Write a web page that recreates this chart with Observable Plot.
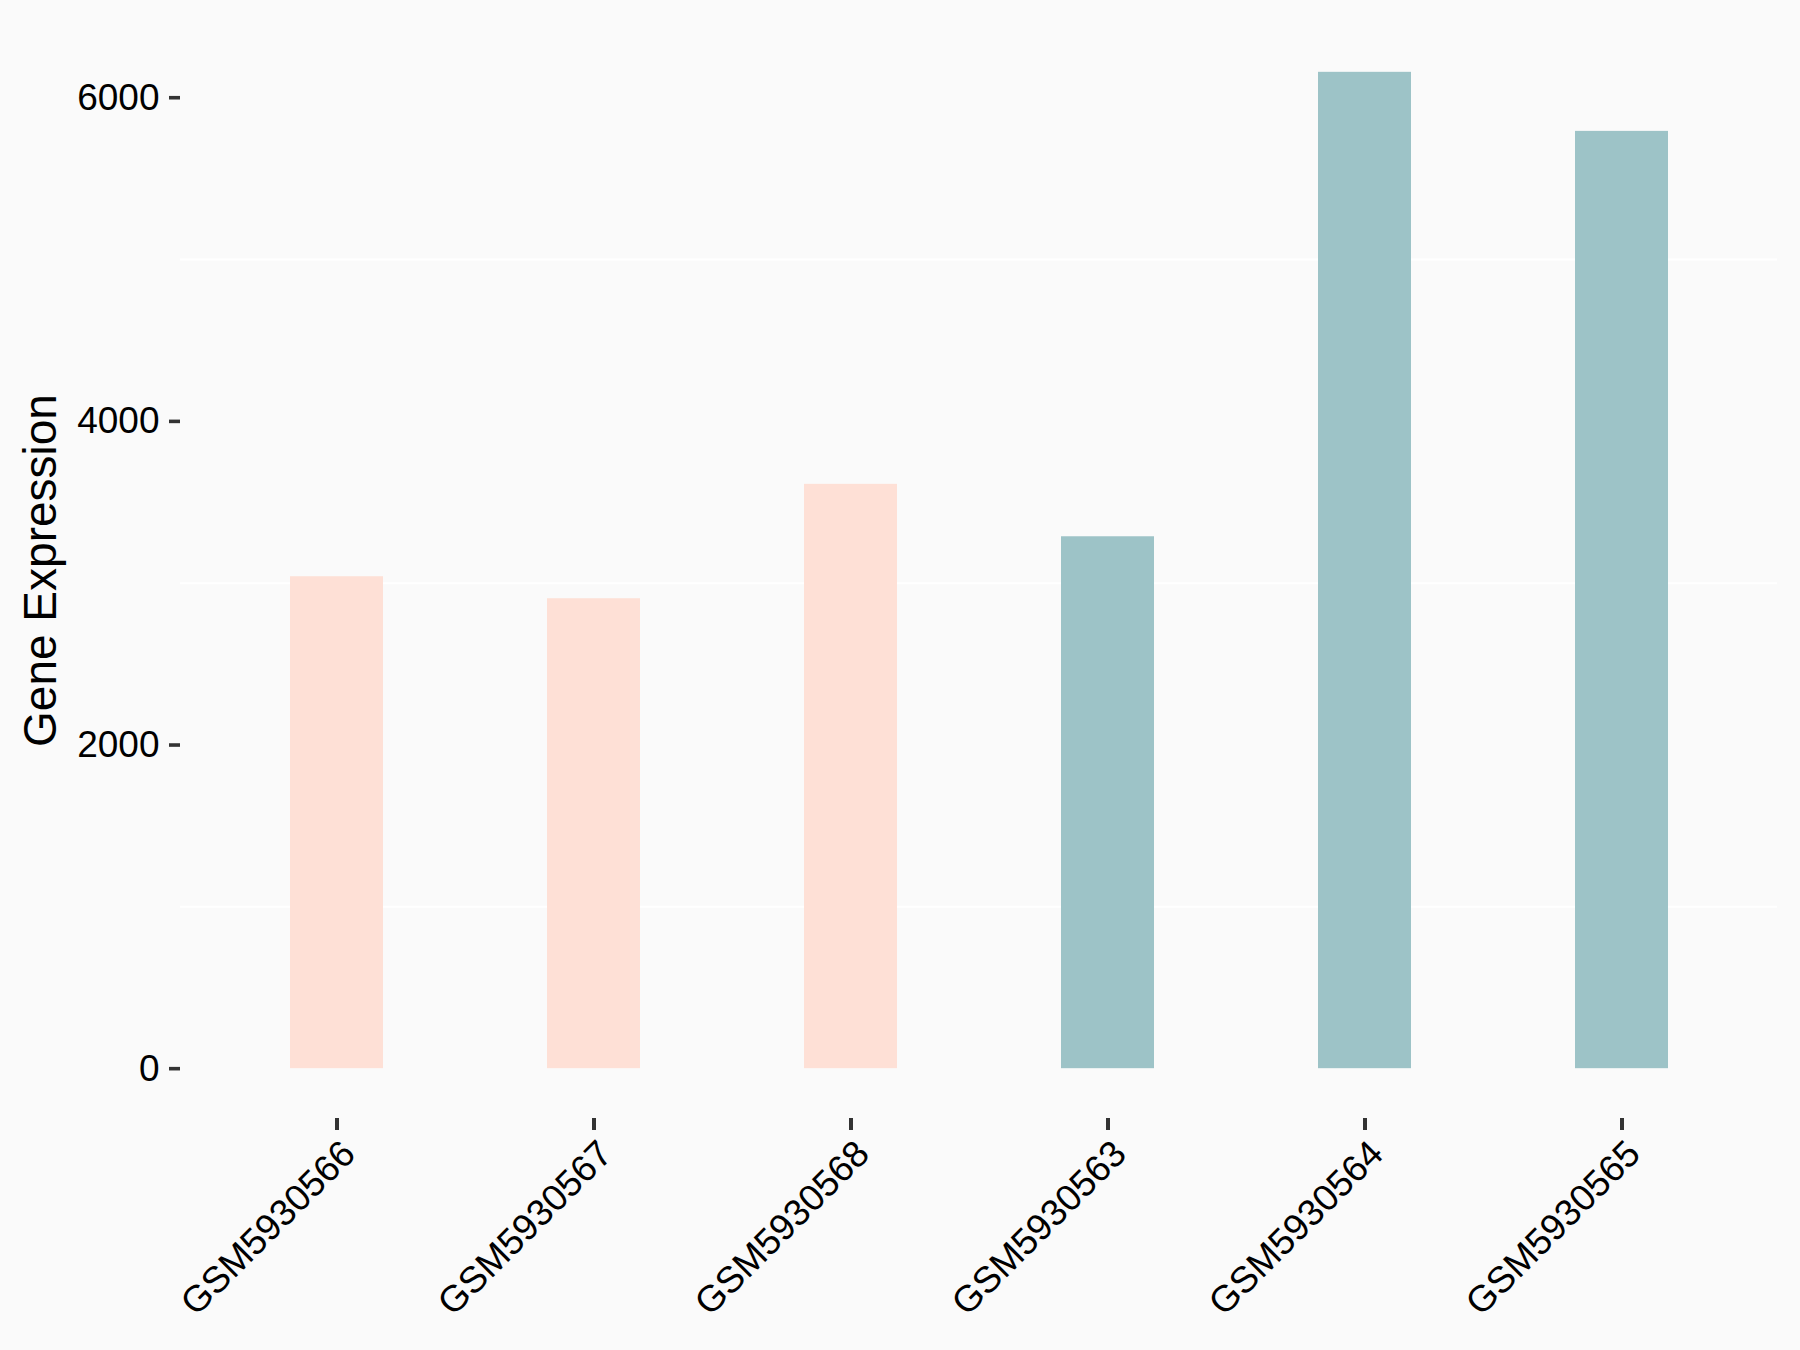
<!DOCTYPE html>
<html>
<head>
<meta charset="utf-8">
<script src="https://cdn.jsdelivr.net/npm/d3@7"></script>
<script src="https://cdn.jsdelivr.net/npm/@observablehq/plot@0.6"></script>
<style>
  html, body { margin: 0; padding: 0; background: #FAFAFA; }
  #chart { width: 1800px; height: 1350px; }
</style>
</head>
<body>
<div id="chart"></div>
<script>
const samples = ["GSM5930566", "GSM5930567", "GSM5930568", "GSM5930563", "GSM5930564", "GSM5930565"];
const values = [3040, 2904, 3611, 3287, 6157, 5792];
const groups = ["group1", "group1", "group1", "group2", "group2", "group2"];
const groupNames = ["group1", "group2"];
const groupColors = ["#FEE0D6", "#9DC3C7"];
const yTicks = [0, 2000, 4000, 6000];
const yMinorGrid = [1000, 3000, 5000];
const yLabel = "Gene Expression";

const data = samples.map((s, i) => ({sample: s, value: values[i], group: groups[i]}));
const maxV = d3.max(values);

const chart = Plot.plot({
  width: 1800,
  height: 1350,
  marginLeft: 180,
  marginRight: 23,
  marginTop: 22,
  marginBottom: 232,
  style: {background: "#FAFAFA", fontFamily: "'Liberation Sans', Arial, sans-serif", color: "black"},
  x: {domain: samples, paddingInner: 0.64, paddingOuter: 0.42},
  y: {domain: [-0.05 * maxV, 1.05 * maxV]},
  color: {domain: groupNames, range: groupColors},
  marks: [
    Plot.ruleY(yMinorGrid, {stroke: "#FFFFFF", strokeWidth: 2}),
    Plot.barY(data, {x: "sample", y: "value", fill: "group"}),
    Plot.axisY({ticks: yTicks, tickFormat: d => String(d), tickSize: 11, tickPadding: 10, fontSize: 37, stroke: "#333333", strokeWidth: 3.6, label: null, fill: "black"}),
    Plot.axisX({tickSize: 12, tickFormat: () => "", stroke: "#333333", strokeWidth: 4, label: null}),
    Plot.axisX({tickSize: 0, tickRotate: -45, tickPadding: 29, dx: 12, fontSize: 37, label: null, fill: "black"}),
    Plot.text([yLabel], {frameAnchor: "left", textAnchor: "middle", rotate: -90, dx: -139, fontSize: 46, fill: "black", text: d => d})
  ]
});
document.getElementById("chart").appendChild(chart);
</script>
</body>
</html>
